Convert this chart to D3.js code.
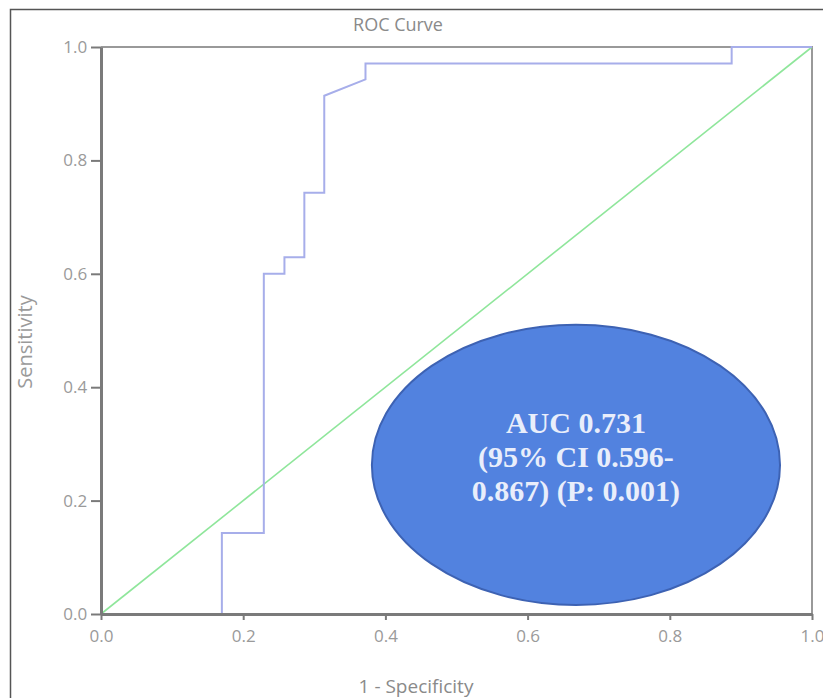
<!DOCTYPE html>
<html>
<head>
<meta charset="utf-8">
<script src="https://cdn.jsdelivr.net/npm/d3@7"></script>
<style>
  body { margin: 0; background: #fff; }
  svg { display: block; }
</style>
</head>
<body>
<svg id="chart"></svg>
<script>
// ROC curve points: 1 - specificity, sensitivity
const fpr = [0, 0.170, 0.170, 0.229, 0.229, 0.258, 0.258, 0.286, 0.286, 0.314, 0.314, 0.372, 0.372, 0.887, 0.887, 1.0];
const tpr = [0, 0, 0.143, 0.143, 0.600, 0.600, 0.629, 0.629, 0.743, 0.743, 0.914, 0.943, 0.971, 0.971, 1.0, 1.0];
const refLine = [0, 1];
const tickValues = [0, 0.2, 0.4, 0.6, 0.8, 1.0];
const labelLines = ["AUC 0.731", "(95% CI 0.596-", "0.867) (P: 0.001)"];

const width = 823, height = 698;
const margin = { left: 101, right: 11, top: 47, bottom: 84 };

const svg = d3.select("#chart")
    .attr("width", width)
    .attr("height", height);

// outer frame of the figure (only top and left edges show)
svg.append("rect")
    .attr("x", 10.5).attr("y", 9.5)
    .attr("width", width + 20).attr("height", height + 20)
    .attr("fill", "none")
    .attr("stroke", "#555")
    .attr("stroke-width", 1.5);

const x = d3.scaleLinear().domain([0, 1]).range([margin.left, width - margin.right]);
const y = d3.scaleLinear().domain([0, 1]).range([height - margin.bottom, margin.top]);

// top and right edges of the plot box
svg.append("path")
    .attr("d", `M${x(0)},${y(1)}H${x(1)}V${y(0)}`)
    .attr("fill", "none")
    .attr("stroke", "#999")
    .attr("stroke-width", 2);

// reference diagonal
svg.append("line")
    .attr("x1", x(refLine[0])).attr("y1", y(refLine[0]))
    .attr("x2", x(refLine[1])).attr("y2", y(refLine[1]))
    .attr("stroke", "#8fe69b")
    .attr("stroke-width", 1.6);

// ROC curve
const pts = fpr.map((f, i) => [f, tpr[i]]);
svg.append("path")
    .datum(pts)
    .attr("d", d3.line().x(d => x(d[0])).y(d => y(d[1])))
    .attr("fill", "none")
    .attr("stroke", "#a7aeea")
    .attr("stroke-width", 2);

// axes
const xAxis = svg.append("g")
    .attr("transform", `translate(0,${y(0)})`)
    .call(d3.axisBottom(x).tickValues(tickValues).tickFormat(d3.format(".1f")).tickSize(6).tickSizeOuter(0));
const yAxis = svg.append("g")
    .attr("transform", `translate(${x(0)},0)`)
    .call(d3.axisLeft(y).tickValues(tickValues).tickFormat(d3.format(".1f")).tickSize(10).tickSizeOuter(0));

[xAxis, yAxis].forEach(g => {
    g.attr("font-size", null);
    g.select(".domain").attr("stroke", "#7a7a7a").attr("stroke-width", 3);
    g.selectAll(".tick line").attr("stroke", "#7a7a7a").attr("stroke-width", 2);
    g.selectAll(".tick text")
        .attr("fill", "#9a9a9a")
        .attr("font-family", "Open Sans, sans-serif")
        .style("font-size", "17px");
});
xAxis.selectAll(".tick text").attr("dy", "1.1em");
yAxis.selectAll(".tick text").attr("dx", "-0.05em");

// annotation ellipse with AUC text
const cx = 0.668, cy = 0.263, rx = 0.287, ry = 0.247;
svg.append("ellipse")
    .attr("cx", x(cx)).attr("cy", y(cy))
    .attr("rx", x(rx) - x(0)).attr("ry", y(0) - y(ry))
    .attr("fill", "#5282df")
    .attr("stroke", "#3d62b3")
    .attr("stroke-width", 2);

svg.append("text")
    .attr("text-anchor", "middle")
    .attr("font-family", "Liberation Serif, Times New Roman, serif")
    .attr("font-size", 30)
    .attr("font-weight", "bold")
    .attr("fill", "#e9eefb")
    .selectAll("tspan")
    .data(labelLines)
    .join("tspan")
    .attr("x", x(cx))
    .attr("y", (d, i) => 433 + i * 34)
    .text(d => d);

// titles
svg.append("text")
    .attr("x", 398).attr("y", 31)
    .attr("text-anchor", "middle")
    .attr("font-family", "Open Sans, sans-serif")
    .attr("font-size", 18)
    .attr("fill", "#8a8a8a")
    .text("ROC Curve");

svg.append("text")
    .attr("x", 416).attr("y", 693)
    .attr("text-anchor", "middle")
    .attr("font-family", "Open Sans, sans-serif")
    .attr("font-size", 19)
    .attr("fill", "#8a8a8a")
    .text("1 - Specificity");

svg.append("text")
    .attr("transform", "translate(32,342) rotate(-90)")
    .attr("text-anchor", "middle")
    .attr("font-family", "Open Sans, sans-serif")
    .attr("font-size", 20)
    .attr("fill", "#9a9a9a")
    .text("Sensitivity");
</script>
</body>
</html>
